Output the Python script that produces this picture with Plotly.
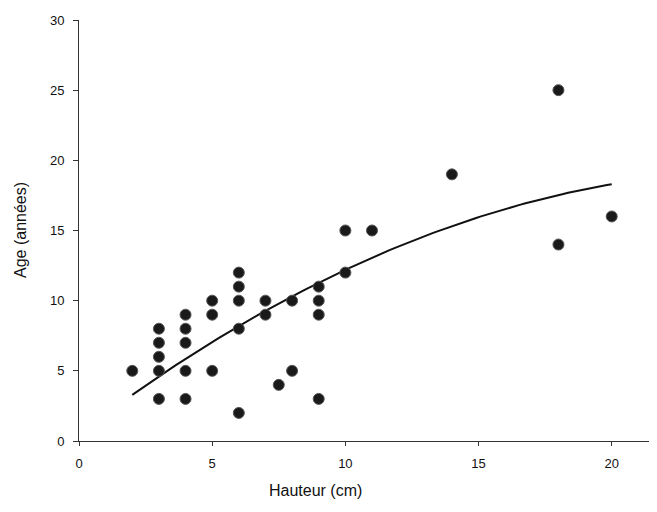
import numpy as np
import plotly.graph_objects as go

hauteur = [2, 3, 3, 3, 3, 3, 4, 4, 4, 4, 4, 5, 5, 5, 6, 6, 6, 6, 6,
           7, 7, 7.5, 8, 8, 9, 9, 9, 9, 10, 10, 11, 14, 18, 18, 20]
age = [5, 8, 7, 6, 5, 3, 9, 8, 7, 5, 3, 10, 9, 5, 12, 11, 10, 8, 2,
       10, 9, 4, 10, 5, 11, 10, 9, 3, 15, 12, 15, 19, 25, 14, 16]

xticks = [0, 5, 10, 15, 20]
yticks = [0, 5, 10, 15, 20, 25, 30]

# quadratic trend line coefficients (a + b*x + c*x^2)
trend_coef = [0.5, 1.45, -0.028]
trend_range = [2, 20]

xf = np.linspace(trend_range[0], trend_range[1], 100)
yf = trend_coef[0] + trend_coef[1] * xf + trend_coef[2] * xf ** 2

fig = go.Figure()
fig.add_trace(go.Scatter(x=xf, y=yf, mode="lines",
                         line=dict(color="#111", width=2), showlegend=False))
fig.add_trace(go.Scatter(x=hauteur, y=age, mode="markers",
                         marker=dict(size=11, color="#1a1a1a",
                                     line=dict(color="#555", width=1)),
                         showlegend=False))

# the page body has an 8px margin; compensate so the plot lands where the reference has it
OFF = 8
W, H = 657 - OFF, 512 - OFF
L, R, T, B = 79 - OFF, 0, 20 - OFF, 71
pw, ph = W - L - R, H - T - B

font = dict(family="Liberation Sans, Arial, sans-serif", color="#111")
fig.update_layout(
    width=W, height=H,
    margin=dict(l=L, r=R, t=T, b=B),
    plot_bgcolor="white", paper_bgcolor="white",
    font=font,
    xaxis=dict(range=[0, 21.7], tickvals=xticks, ticks="outside", ticklen=4,
               showline=True, linecolor="#333", linewidth=1, showgrid=False,
               zeroline=False, tickfont=dict(size=13), tickcolor="#333",
               automargin=False, ticklabelstandoff=6),
    yaxis=dict(range=[0, 30], tickvals=yticks, ticks="outside", ticklen=5,
               showline=True, linecolor="#333", linewidth=1, showgrid=False,
               zeroline=False, tickfont=dict(size=13), tickcolor="#333",
               automargin=False, ticklabelstandoff=6),
    annotations=[
        dict(text="Hauteur (cm)", xref="paper", yref="paper",
             x=(315 - 79) / pw, y=(441 - 490) / ph, yanchor="middle",
             xanchor="center", showarrow=False, font=dict(size=16)),
        dict(text="Age (années)", xref="paper", yref="paper",
             x=(20 - 79) / pw, y=(441 - 230) / ph, yanchor="middle",
             xanchor="center", textangle=-90, showarrow=False,
             font=dict(size=16)),
    ],
)
fig.write_html("out.html")
